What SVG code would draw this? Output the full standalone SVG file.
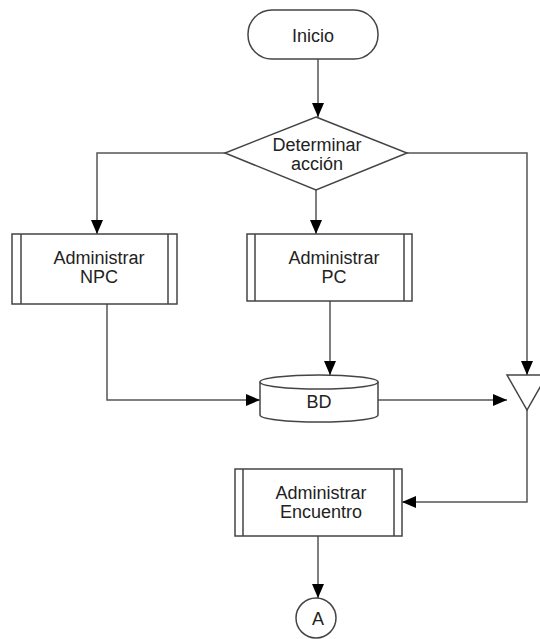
<svg xmlns="http://www.w3.org/2000/svg" width="540" height="639" viewBox="0 0 540 639">
<style>
.s{fill:#fff;stroke:#444;stroke-width:1.5}
.l{fill:none;stroke:#555;stroke-width:1.5}
text{font-family:"Liberation Sans",Arial,sans-serif;font-size:18px;fill:#222;text-anchor:middle}
</style>
<defs>
<marker id="b" viewBox="0 0 14 12" refX="14" refY="6" markerWidth="14" markerHeight="12" markerUnits="userSpaceOnUse" orient="auto">
<path d="M0,0 L14,6 L0,12 Z" fill="#000"/>
</marker>
</defs>
<rect width="540" height="639" fill="#fff"/>
<g id="connectors">
<path class="l" d="M318,59 V117" marker-end="url(#b)"/>
<path class="l" d="M225,153 H97 V234" marker-end="url(#b)"/>
<path class="l" d="M316,190 V234" marker-end="url(#b)"/>
<path class="l" d="M407,153 H527 V375" marker-end="url(#b)"/>
<path class="l" d="M330,301 V375" marker-end="url(#b)"/>
<path class="l" d="M107,304 V400 H260" marker-end="url(#b)"/>
<path class="l" d="M378,400 H507" marker-end="url(#b)"/>
<path class="l" d="M527,410 V502 H402" marker-end="url(#b)"/>
<path class="l" d="M318,536 V598" marker-end="url(#b)"/>
</g>
<g id="inicio">
<rect class="s" x="248" y="10" width="130" height="49" rx="24"/>
<text x="313" y="42">Inicio</text>
</g>
<g id="determinar">
<path class="s" d="M316,117 L407,153 L316,190 L225,153 Z"/>
<text x="317" y="151">Determinar</text>
<text x="317" y="170">acción</text>
</g>
<g id="npc">
<rect class="s" x="12" y="234" width="165" height="70"/>
<path class="s" d="M21,234 V304 M168,234 V304"/>
<text x="99" y="264">Administrar</text>
<text x="99" y="283">NPC</text>
</g>
<g id="pc">
<rect class="s" x="247" y="234" width="165" height="67"/>
<path class="s" d="M255,234 V301 M404,234 V301"/>
<text x="334" y="264">Administrar</text>
<text x="334" y="283">PC</text>
</g>
<g id="bd">
<path class="s" d="M260,382 V415 A59,7 0 0 0 378,415 V382"/>
<ellipse class="s" cx="319" cy="382" rx="59" ry="7"/>
<text x="319" y="408">BD</text>
</g>
<g id="merge">
<path class="s" d="M507,375 L547,375 L527,410 Z"/>
</g>
<g id="encuentro">
<rect class="s" x="235" y="469" width="167" height="67"/>
<path class="s" d="M243,469 V536 M394,469 V536"/>
<text x="321" y="499">Administrar</text>
<text x="321" y="518">Encuentro</text>
</g>
<g id="conectorA">
<circle class="s" cx="316" cy="618" r="20"/>
<text x="318" y="625">A</text>
</g>
</svg>
